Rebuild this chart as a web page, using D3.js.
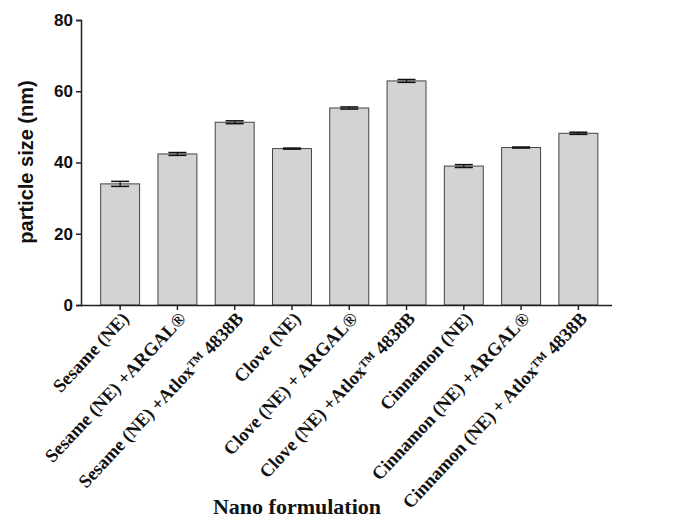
<!DOCTYPE html>
<html><head><meta charset="utf-8">
<script src="https://cdn.jsdelivr.net/npm/d3@7"></script>
<style>body{margin:0;background:#fff}</style>
</head><body>
<svg id="chart" width="685" height="532"></svg>
<script>
const categories = ["Sesame (NE)", "Sesame (NE) +ARGAL®", "Sesame (NE) +Atlox™ 4838B",
  "Clove (NE)", "Clove (NE) + ARGAL®", "Clove (NE) +Atlox™ 4838B",
  "Cinnamon (NE)", "Cinnamon (NE) +ARGAL®", "Cinnamon (NE) + Atlox™ 4838B"];
const sizes = [34.0, 42.4, 51.3, 43.9, 55.3, 62.9, 39.0, 44.2, 48.2];
const errors = [0.7, 0.4, 0.4, 0.15, 0.3, 0.4, 0.4, 0.15, 0.3];
const yTicks = [0, 20, 40, 60, 80];

const svg = d3.select("#chart");
const x = d3.scaleBand().domain(categories).range([91.5, 607]).paddingInner(0.32).paddingOuter(0.16);
const y = d3.scaleLinear().domain([0, 80]).range([305, 20]);

// bars
svg.selectAll("rect.bar").data(categories).join("rect")
  .attr("x", d => x(d)).attr("width", x.bandwidth())
  .attr("y", (d, i) => y(sizes[i])).attr("height", (d, i) => y(0) - y(sizes[i]))
  .attr("fill", "#d3d3d3").attr("stroke", "#444").attr("stroke-width", 1);

// error bars
const eb = svg.selectAll("g.err").data(categories).join("g");
eb.append("line")
  .attr("x1", d => x(d) + x.bandwidth() / 2).attr("x2", d => x(d) + x.bandwidth() / 2)
  .attr("y1", (d, i) => y(sizes[i] + errors[i])).attr("y2", (d, i) => y(sizes[i] - errors[i]))
  .attr("stroke", "#111").attr("stroke-width", 1.2);
[1, -1].forEach(s => {
  eb.append("line")
    .attr("x1", d => x(d) + x.bandwidth() / 2 - 9).attr("x2", d => x(d) + x.bandwidth() / 2 + 9)
    .attr("y1", (d, i) => y(sizes[i] + s * errors[i])).attr("y2", (d, i) => y(sizes[i] + s * errors[i]))
    .attr("stroke", "#111").attr("stroke-width", 1.5);
});

// y axis
const ya = svg.append("g").attr("transform", "translate(81,0)")
  .call(d3.axisLeft(y).tickValues(yTicks).tickSize(5).tickPadding(3));
ya.select(".domain").attr("stroke", "#222").attr("stroke-width", 1.5);
ya.selectAll(".tick line").attr("stroke", "#222").attr("stroke-width", 1.5);
ya.selectAll("text").attr("font-family", "Liberation Sans, Arial, sans-serif")
  .attr("font-weight", "bold").attr("font-size", 17).attr("fill", "#111");

// x axis
const xa = svg.append("g").attr("transform", "translate(0,305)")
  .call(d3.axisBottom(x).tickSize(5).tickSizeOuter(0));
xa.select(".domain").attr("d", "M81,0.5H612").attr("stroke", "#222").attr("stroke-width", 1.5);
xa.selectAll(".tick line").attr("stroke", "#222").attr("stroke-width", 1.5);
xa.selectAll("text")
  .attr("font-family", "Liberation Serif, Times New Roman, serif")
  .attr("font-weight", "bold").attr("font-size", 18.5).attr("fill", "#111")
  .attr("text-anchor", "end").attr("dy", "0.35em")
  .attr("transform", "translate(5,10) rotate(-47)").attr("x", 0).attr("y", 0);

// axis titles
svg.append("text").attr("transform", "translate(33,162) rotate(-90)")
  .attr("text-anchor", "middle").attr("font-family", "Liberation Sans, Arial, sans-serif")
  .attr("font-weight", "bold").attr("font-size", 20).attr("fill", "#111")
  .text("particle size (nm)");
svg.append("text").attr("x", 297).attr("y", 514).attr("text-anchor", "middle")
  .attr("font-family", "Liberation Serif, Times New Roman, serif")
  .attr("font-weight", "bold").attr("font-size", 22).attr("fill", "#111")
  .text("Nano formulation");
</script>
</body></html>
